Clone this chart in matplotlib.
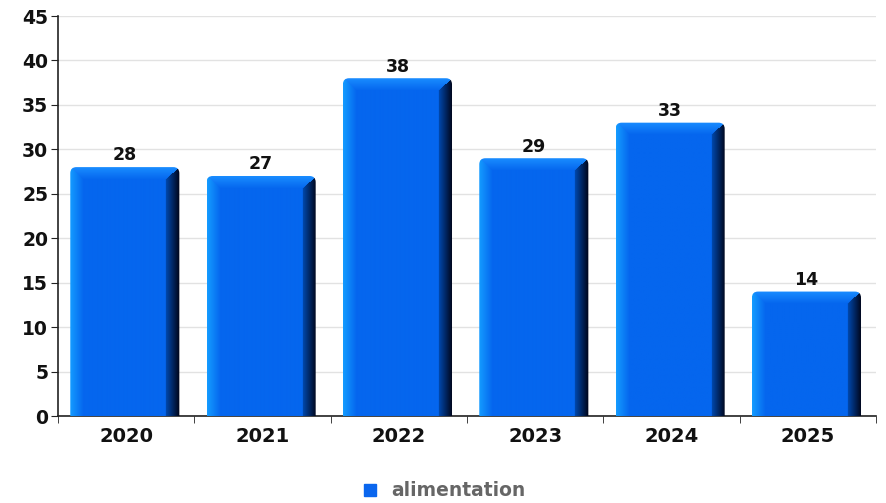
import numpy as np
import matplotlib
matplotlib.use("Agg")
import matplotlib.pyplot as plt
from matplotlib.patches import FancyBboxPatch
from matplotlib.lines import Line2D

# --- Dados ---
years = ["2020", "2021", "2022", "2023", "2024", "2025"]
values = [28, 27, 38, 29, 33, 14]
series_name = "alimentation"

# --- Cores ---
FRONT = np.array([5, 102, 238]) / 255.0
LEFT = np.array([20, 155, 255]) / 255.0
TOP = np.array([25, 140, 255]) / 255.0
RIGHT_A = np.array([0, 75, 180]) / 255.0
RIGHT_B = np.array([0, 5, 25]) / 255.0

BAR_W = 0.8
BAR_OFF = 0.09
YMAX = 45


def bar_image(w_px, h_px, bl=13, bt=12, br=14):
    """Monta a imagem RGB de uma barra com efeito 3D (chanfro)."""
    img = np.zeros((h_px, w_px, 3))
    for r in range(h_px):
        for c in range(w_px):
            dl = c / bl
            dr = (w_px - 1 - c) / br
            dt = r / bt
            m = min(dl, dr, dt)
            if m >= 1:
                col = FRONT.copy()
            elif m == dr:
                t = 1 - dr
                col = RIGHT_A * (1 - t) + RIGHT_B * t
            elif m == dt:
                col = TOP * (1 - dt) + FRONT * dt
            else:
                col = LEFT * (1 - dl) + FRONT * dl
            img[r, c] = col
    return img


fig = plt.figure(figsize=(8.86, 5.03), dpi=100)
ax = fig.add_axes([58 / 886, 87 / 503, 818 / 886, 400 / 503])

px_x = 818 / len(years)
px_y = 400 / YMAX

for i, v in enumerate(values):
    x0 = i + BAR_OFF
    w_px = int(round(BAR_W * px_x))
    h_px = max(int(round(v * px_y)), 2)
    img = bar_image(w_px, h_px)
    im = ax.imshow(img, extent=[x0, x0 + BAR_W, 0, v], aspect="auto",
                   interpolation="bilinear", zorder=3)
    clip = FancyBboxPatch((x0, -2), BAR_W, v + 2,
                          boxstyle="round,pad=0,rounding_size=0.045",
                          mutation_aspect=px_x / px_y,
                          transform=ax.transData, facecolor="none",
                          edgecolor="none")
    ax.add_patch(clip)
    im.set_clip_path(clip)
    ax.text(x0 + BAR_W / 2, v + 0.3, str(v), ha="center", va="bottom",
            fontsize=12.5, fontweight="bold", color="#111111", zorder=4)

ax.set_xlim(0, len(years))
ax.set_ylim(0, YMAX)

ax.set_yticks(range(0, YMAX + 1, 5))
ax.set_xticks(np.arange(len(years)) + 0.5)
ax.set_xticklabels(years)
ax.set_xticks(np.arange(len(years) + 1), minor=True)
ax.tick_params(axis="x", which="major", length=0, pad=8)
ax.tick_params(axis="x", which="minor", length=5, color="#222222")
ax.tick_params(axis="y", length=5, color="#222222", pad=2)
for lab in ax.get_xticklabels():
    lab.set_fontsize(14)
    lab.set_fontweight("bold")
    lab.set_color("#111111")
for lab in ax.get_yticklabels():
    lab.set_fontsize(13.5)
    lab.set_fontweight("bold")
    lab.set_color("#111111")

ax.grid(axis="y", color="#e2e2e2", linewidth=1, zorder=0)
ax.set_axisbelow(True)
for s in ["top", "right"]:
    ax.spines[s].set_visible(False)
for s in ["left", "bottom"]:
    ax.spines[s].set_color("#222222")
    ax.spines[s].set_linewidth(1.2)

handle = Line2D([], [], marker="s", linestyle="none", markersize=9,
                markerfacecolor="#0a66ee", markeredgecolor="#0a66ee")
leg = fig.legend([handle], [series_name], loc="center", bbox_to_anchor=(0.5, 12 / 503),
                 frameon=False, handletextpad=0.6, handlelength=1.0,
                 prop={"size": 13.5, "weight": "bold"})
for t in leg.get_texts():
    t.set_color("#666666")

fig.savefig("out.png", dpi=100)
